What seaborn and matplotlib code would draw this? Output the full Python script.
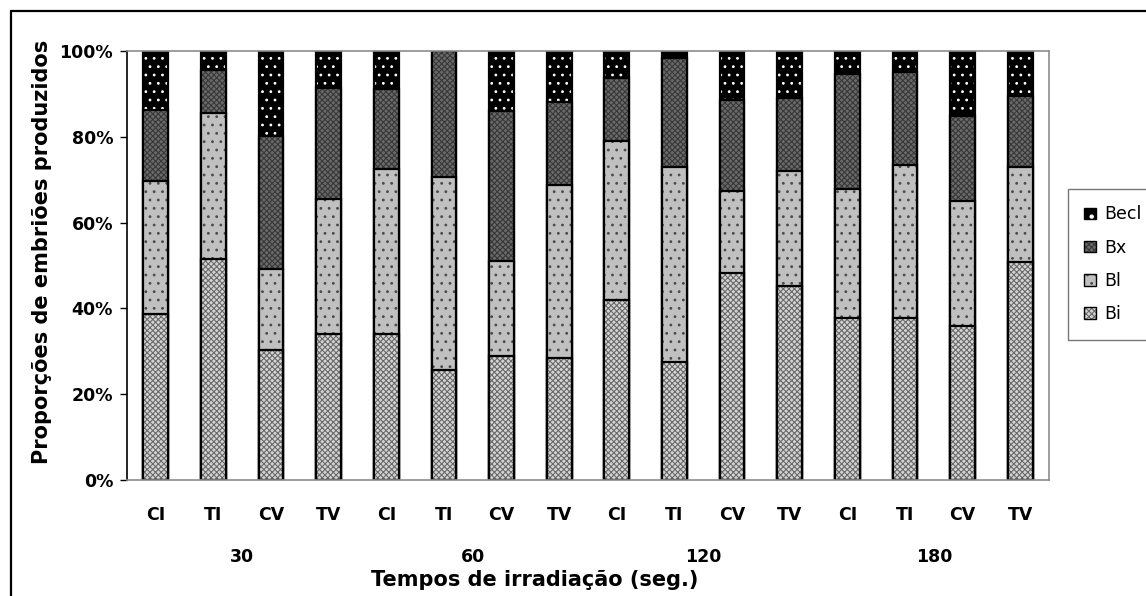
import numpy as np
import pandas as pd
import matplotlib.pyplot as plt
import seaborn as sns
from matplotlib.patches import Patch
from matplotlib.lines import Line2D
from matplotlib.colors import to_rgba

# data (percent of embryos per class)
tempos = ["30", "60", "120", "180"]
tratamentos = ["CI", "TI", "CV", "TV"]
bi = [38.7, 51.4, 30.2, 34.0, 34.0, 25.6, 28.9, 28.4,
      41.9, 27.5, 48.3, 45.2, 37.7, 37.7, 35.8, 50.7]
bl = [31.1, 34.2, 19.0, 31.6, 38.6, 45.1, 22.2, 40.4,
      37.2, 45.5, 19.1, 26.9, 30.1, 35.7, 29.2, 22.3]
bx = [16.4, 10.0, 31.0, 25.8, 18.5, 29.3, 34.8, 19.4,
      14.7, 25.4, 21.2, 17.0, 26.9, 21.7, 19.8, 16.6]
becl = [13.8, 4.4, 19.8, 8.6, 8.9, 0.0, 14.1, 11.8,
        6.2, 1.6, 11.4, 10.9, 5.3, 4.9, 15.2, 10.4]

classes = ["Becl", "Bx", "Bl", "Bi"]

sns.set_style("white")
plt.rcParams['font.family'] = ['DejaVu Sans']
plt.rcParams['hatch.linewidth'] = 0.8
plt.rcParams['text.color'] = 'black'
plt.rcParams['xtick.color'] = 'black'
plt.rcParams['ytick.color'] = 'black'

bars = [f"{t}-{c}" for t in tempos for c in tratamentos]
df = pd.DataFrame({"bar": bars, "Bi": bi, "Bl": bl, "Bx": bx, "Becl": becl})
df["top_bi"] = df["Bi"]
df["top_bl"] = df["top_bi"] + df["Bl"]
df["top_bx"] = df["top_bl"] + df["Bx"]
df["top_becl"] = df["top_bx"] + df["Becl"]

# style per class: facecolor, hatch, hatch colour
styles = {
    "Becl": ("black", "..", "white"),
    "Bx": ("#6a6a6a", "xxxxxx", "#383838"),
    "Bl": ("#c0c0c0", "..", "#4a4a4a"),
    "Bi": ("#d4d4d4", "xxxxxx", "#6a6a6a"),
}

fig = plt.figure(figsize=(11.46, 5.96), dpi=100)
ax = fig.add_axes([127 / 1146, 1 - 480 / 596, (1049 - 127) / 1146, (480 - 51) / 596])

# draw cumulative tops from tallest to shortest so lower classes cover upper ones
for cls, col in [("Becl", "top_becl"), ("Bx", "top_bx"), ("Bl", "top_bl"), ("Bi", "top_bi")]:
    fc, hatch, hc = styles[cls]
    n_before = len(ax.patches)
    sns.barplot(data=df, x="bar", y=col, order=bars, color=fc, width=0.43,
                saturation=1, edgecolor="black", linewidth=1.6, ax=ax)
    for p in ax.patches[n_before:]:
        p.set_facecolor(fc)
        p.set_hatch(hatch)
        p._hatch_color = to_rgba(hc)

ax.set_xlim(-0.5, len(bars) - 0.5)
ax.set_ylim(0, 100)
ax.set_yticks([0, 20, 40, 60, 80, 100])
ax.set_yticklabels(["0%", "20%", "40%", "60%", "80%", "100%"])
ax.set_xticks(range(len(bars)))
ax.set_xticklabels(tratamentos * len(tempos))
ax.set_xlabel("")
ax.set_ylabel("")
ax.tick_params(axis="y", which="major", length=5, width=1, color="black",
               direction="out", pad=5, labelsize=12.5, left=True)
ax.tick_params(axis="x", length=0, pad=19, labelsize=12.5)
for lab in ax.get_xticklabels() + ax.get_yticklabels():
    lab.set_fontweight("bold")

for side in ["top", "right", "bottom"]:
    ax.spines[side].set_color("#8c8c8c")
    ax.spines[side].set_linewidth(1.2)
ax.spines["left"].set_color("black")
ax.spines["left"].set_linewidth(1.2)

# group labels under the categories
for i, t in enumerate(tempos):
    xc = i * 4 + 1.5
    ax.text(xc, -18.0, t, ha="center", va="center", fontsize=12.5,
            fontweight="bold", clip_on=False)

fig.text(535 / 1146, 1 - 580 / 596, "Tempos de irradiação (seg.)", ha="center",
         va="center", fontsize=15, fontweight="bold")
fig.text(42 / 1146, 1 - 252 / 596, "Proporções de embriões produzidos", ha="center",
         va="center", rotation=90, fontsize=15, fontweight="bold")

# legend
handles = []
for cls in classes:
    fc, hatch, hc = styles[cls]
    handles.append(Patch(facecolor=fc, edgecolor="black",
                         hatch=hatch if cls != "Becl" else ".", label=cls))
leg = fig.legend(handles=handles, loc="upper left",
                 bbox_to_anchor=(1068 / 1146, 1 - 189 / 596), frameon=True,
                 fancybox=False, fontsize=12.5, handlelength=0.65, handleheight=0.65,
                 handletextpad=0.5, labelspacing=0.88, borderpad=0.95, borderaxespad=0)
leg.get_frame().set_edgecolor("#555555")
leg.get_frame().set_linewidth(1.0)
for h, cls in zip(leg.legend_handles, classes):
    h._hatch_color = to_rgba(styles[cls][2])

# outer chart border (left and top visible)
fig.add_artist(Line2D([11 / 1146, 11 / 1146], [0, 1 - 11 / 596], transform=fig.transFigure,
                      color="black", lw=1.6))
fig.add_artist(Line2D([11 / 1146, 1], [1 - 11 / 596, 1 - 11 / 596], transform=fig.transFigure,
                      color="black", lw=1.6))

fig.savefig("out.png", dpi=100)
